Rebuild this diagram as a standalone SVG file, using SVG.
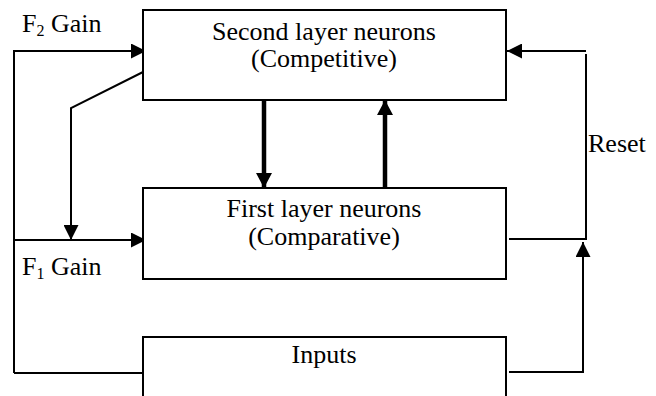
<svg xmlns="http://www.w3.org/2000/svg" width="656" height="396" viewBox="0 0 656 396">
  <style>
    .box { fill: #fff; stroke: #000; stroke-width: 2; }
    .wire { fill: none; stroke: #000; stroke-width: 2; }
    .bus { fill: none; stroke: #000; stroke-width: 4.5; }
    text { font-family: "Liberation Serif", "Times New Roman", serif; font-size: 26px; fill: #000; }
    .c { text-anchor: middle; }
    .sub { font-size: 16px; }
  </style>
  <defs>
    <marker id="arrowS" viewBox="0 0 10 10" refX="10" refY="5" markerWidth="15" markerHeight="15" markerUnits="userSpaceOnUse" orient="auto" preserveAspectRatio="none">
      <path d="M0,0 L10,5 L0,10 Z" fill="#000"/>
    </marker>
    <marker id="arrowB" viewBox="0 0 10 10" refX="10" refY="5" markerWidth="15" markerHeight="16" markerUnits="userSpaceOnUse" orient="auto" preserveAspectRatio="none">
      <path d="M0,0 L10,5 L0,10 Z" fill="#000"/>
    </marker>
  </defs>

  <g id="connectors">
    <!-- F2 gain feed into the second layer -->
    <path class="wire" d="M14,373 L14,51 L146,51" marker-end="url(#arrowS)"/>
    <!-- Second layer to F1 gain -->
    <path class="wire" d="M147,70 L71,108 L71,240" marker-end="url(#arrowS)"/>
    <!-- F1 gain feed into the first layer -->
    <path class="wire" d="M14,240 L146,240" marker-end="url(#arrowS)"/>
    <!-- Inputs fan out to the left -->
    <path class="wire" d="M14,373 L147,373"/>
    <!-- Top-down and bottom-up paths between layers -->
    <path class="bus" d="M264,100 L264,188" marker-end="url(#arrowB)"/>
    <path class="bus" d="M385,188 L385,100" marker-end="url(#arrowB)"/>
    <!-- Reset loop -->
    <path class="wire" d="M509,239 L586,239 L586,54"/>
    <path class="wire" d="M586,51 L507,51" marker-end="url(#arrowS)"/>
    <!-- Inputs to reset -->
    <path class="wire" d="M509,372 L583,372 L583,242" marker-end="url(#arrowS)"/>
  </g>

  <g id="second-layer">
    <rect class="box" x="143" y="10" width="363" height="90"/>
    <text class="c" x="324" y="40">Second layer neurons</text>
    <text class="c" x="324" y="67">(Competitive)</text>
  </g>

  <g id="first-layer">
    <rect class="box" x="143" y="188" width="363" height="91"/>
    <text class="c" x="324" y="217">First layer neurons</text>
    <text class="c" x="324" y="245">(Comparative)</text>
  </g>

  <g id="inputs">
    <path class="box" d="M143,398 L143,337 L506,337 L506,398"/>
    <text class="c" x="324" y="363">Inputs</text>
  </g>

  <g id="labels">
    <text x="22" y="32">F<tspan class="sub" dy="4">2</tspan><tspan dy="-4"> Gain</tspan></text>
    <text x="22" y="275">F<tspan class="sub" dy="4">1</tspan><tspan dy="-4"> Gain</tspan></text>
    <text x="588" y="152">Reset</text>
  </g>
</svg>
